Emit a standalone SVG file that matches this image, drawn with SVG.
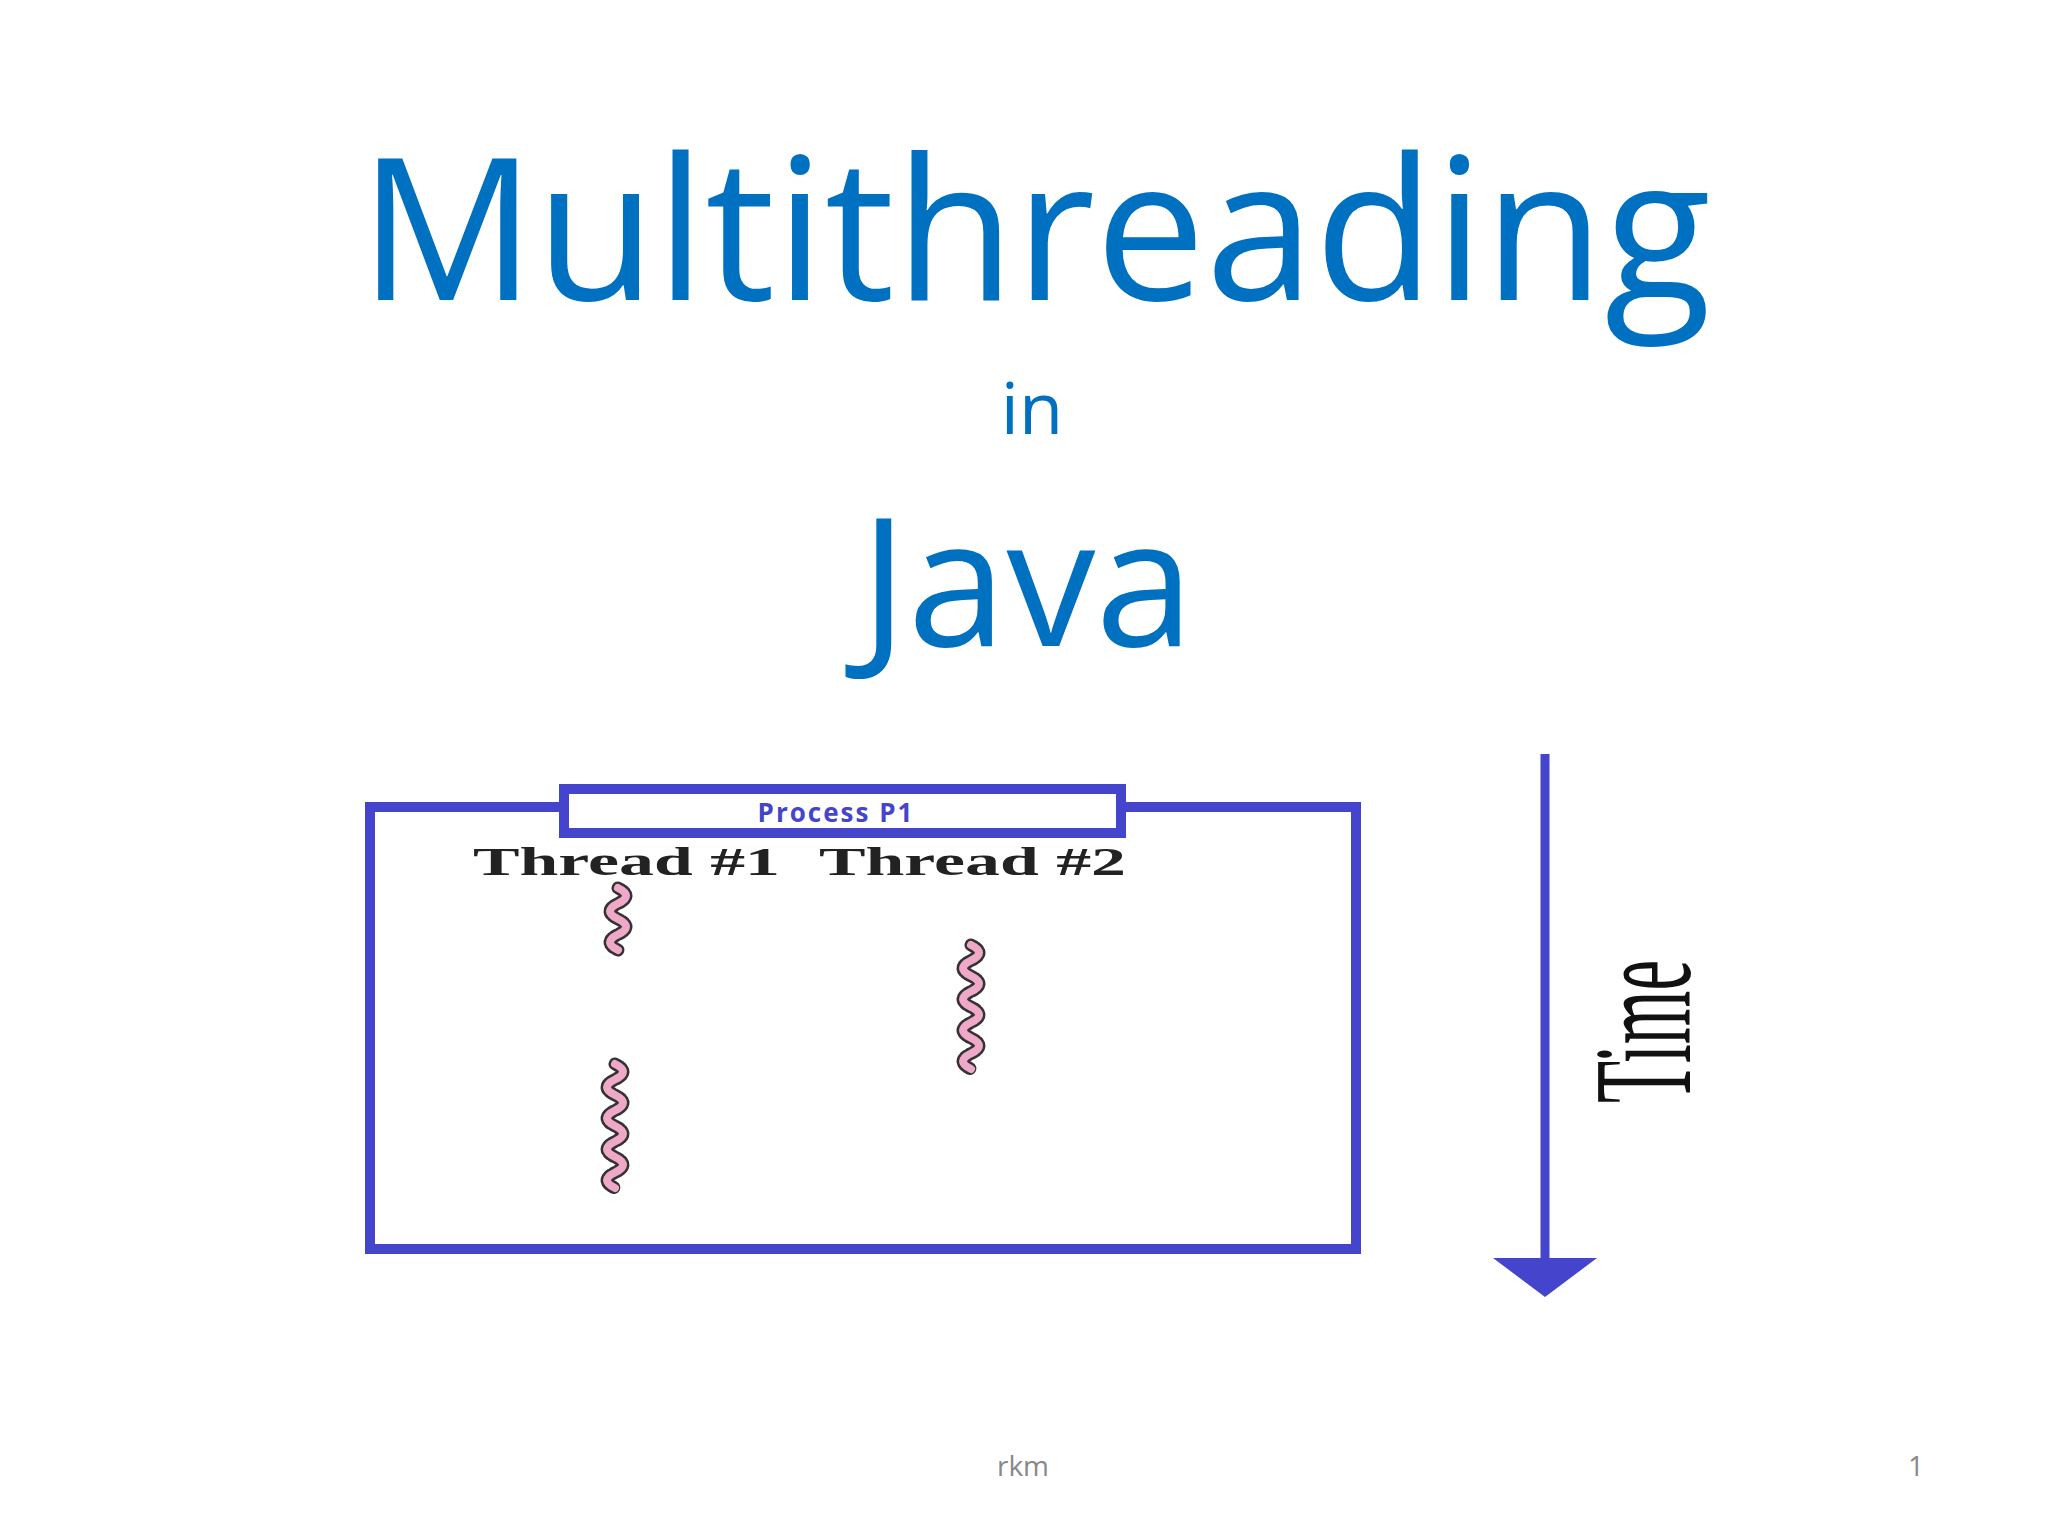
<svg xmlns="http://www.w3.org/2000/svg" width="2048" height="1536" viewBox="0 0 2048 1536">
<defs>
<style>
.t{font-family:"Open Sans","Liberation Sans",sans-serif;fill:#0070c0;text-anchor:middle}
.b{fill:none;stroke:#4444cc;stroke-width:10}
.sq1{fill:none;stroke:#333;stroke-width:13;stroke-linecap:round;stroke-dasharray:3 2}
.sq2{fill:none;stroke:#f0a8c8;stroke-width:8;stroke-linecap:round}
.th{font-family:"Liberation Serif",serif;font-weight:bold;font-size:40px;fill:#222}
</style>
<path id="w2" d="M0 0 Q16 7.75 0 15.5 T0 31 T0 46.5 T0 62"/>
<path id="w4" d="M0 0 Q16 7.75 0 15.5 T0 31 T0 46.5 T0 62 T0 77.5 T0 93 T0 108.5 T0 124"/>
</defs>
<rect width="2048" height="1536" fill="#fff"/>
<g id="title">
<text class="t" x="1035" y="300" font-size="198" textLength="1352" lengthAdjust="spacingAndGlyphs">Multithreading</text>
<text class="t" x="1032" y="434" font-size="72">in</text>
<text class="t" x="1027" y="646" font-size="178">Java</text>
</g>
<g id="process">
<rect class="b" x="370" y="807" width="986" height="442"/>
<rect class="b" x="564" y="789" width="557" height="44" style="fill:#fff"/>
<text x="836" y="822" font-family="Open Sans,Liberation Sans,sans-serif" font-weight="bold" font-size="26" fill="#4444cc" text-anchor="middle" letter-spacing="2">Process P1</text>
</g>
<g id="thread1">
<text class="th" x="473" y="875" textLength="307" lengthAdjust="spacingAndGlyphs">Thread #1</text>
<use href="#w2" x="618" y="888" class="sq1"/><use href="#w2" x="618" y="888" class="sq2"/>
<use href="#w4" x="615" y="1064" class="sq1"/><use href="#w4" x="615" y="1064" class="sq2"/>
</g>
<g id="thread2">
<text class="th" x="819" y="875" textLength="307" lengthAdjust="spacingAndGlyphs">Thread #2</text>
<use href="#w4" x="971" y="945" class="sq1"/><use href="#w4" x="971" y="945" class="sq2"/>
</g>
<g id="connectors">
<line x1="1545" y1="754" x2="1545" y2="1262" stroke="#4444cc" stroke-width="9"/>
<polygon points="1493,1258 1597,1258 1545,1297" fill="#4444cc"/>
</g>
<g id="time">
<text transform="translate(1690,1103) rotate(-90)" font-family="Liberation Serif,serif" font-size="140" fill="#111" textLength="143" lengthAdjust="spacingAndGlyphs">Time</text>
</g>
<g id="footer" font-family="Open Sans,Liberation Sans,sans-serif" font-size="28" fill="#888" text-anchor="middle">
<text x="1023" y="1476">rkm</text>
<text x="1916" y="1476">1</text>
</g>
</svg>
